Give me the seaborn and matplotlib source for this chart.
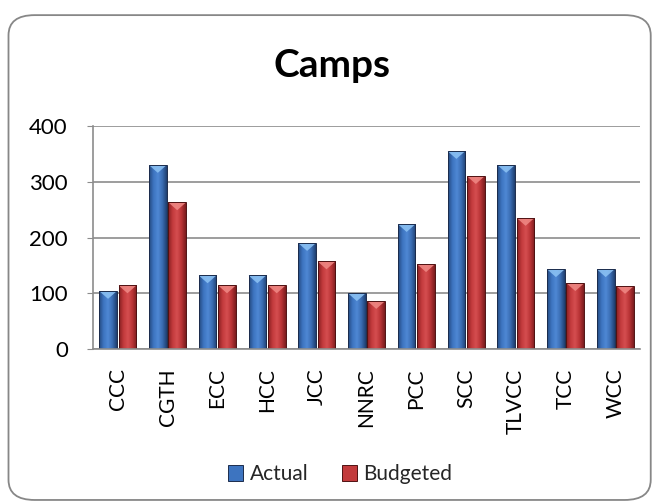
import matplotlib
matplotlib.use("Agg")
import matplotlib.pyplot as plt
from matplotlib.patches import FancyBboxPatch, Polygon
from matplotlib.colors import to_rgb
import numpy as np
import seaborn as sns
import pandas as pd

camps = ["CCC", "CGTH", "ECC", "HCC", "JCC", "NNRC", "PCC", "SCC", "TLVCC", "TCC", "WCC"]
actual = [104, 330, 132, 132, 190, 100, 224, 355, 330, 143, 143]
budgeted = [114, 263, 114, 114, 157, 86, 152, 310, 235, 118, 113]

df = pd.DataFrame({
    "camp": camps * 2,
    "value": actual + budgeted,
    "series": ["Actual"] * len(camps) + ["Budgeted"] * len(camps),
})

sns.set_style("white")
plt.rcParams["font.family"] = ["Lato", "DejaVu Sans"]

fig = plt.figure(figsize=(6.54, 5.04), dpi=100)
ax = fig.add_axes([0.142, 0.3075, 0.837, 0.4425])

palette = {"Actual": "#3a6db5", "Budgeted": "#c43a3c"}
sns.barplot(data=df, x="camp", y="value", hue="series", palette=palette,
            width=0.78, gap=0.09, edgecolor="#1c2c4c", linewidth=0.7,
            saturation=1, ax=ax, legend=True)

# excel-like shading: horizontal gradient + light chevron on top
shades = {
    "Actual": (["#24497f", "#3d74c0", "#4f88d4", "#3a6db3", "#1f3f70"], "#8ec4f5", "#1c2c4c"),
    "Budgeted": (["#852022", "#c23a3c", "#d54e50", "#b93436", "#7a1c1e"], "#f08a86", "#4f1213"),
}
bars = ax.patches[:2 * len(camps)]
for i, patch in enumerate(bars):
    key = "Actual" if i < len(camps) else "Budgeted"
    stops, tip, edge = shades[key]
    patch.set_edgecolor(edge)
    x0, y0 = patch.get_x(), patch.get_y()
    w, h = patch.get_width(), patch.get_height()
    x1 = x0 + w
    xs = np.linspace(0, 1, 64)
    pos = np.linspace(0, 1, len(stops))
    rgb = np.array([to_rgb(c) for c in stops])
    grad = np.stack([np.interp(xs, pos, rgb[:, k]) for k in range(3)], axis=-1)[None, :, :]
    im = ax.imshow(grad, extent=(x0, x1, y0, y0 + h), aspect="auto",
                   zorder=patch.get_zorder() + 0.1)
    im.set_clip_path(patch)
    tri = Polygon([(x0, y0 + h), (x1, y0 + h), (x0 + w / 2, y0 + h - 14)],
                  closed=True, facecolor=tip, edgecolor="none", alpha=0.85,
                  zorder=patch.get_zorder() + 0.2)
    ax.add_patch(tri)
    patch.set_facecolor("none")
    patch.set_zorder(patch.get_zorder() + 0.3)

ax.set_ylim(0, 400)
ax.set_yticks([0, 100, 200, 300, 400])
ax.set_xlim(-0.5, len(camps) - 0.5)
ax.yaxis.grid(True, color="#8c8c8c", linewidth=1.2)
ax.set_axisbelow(True)
for side in ["top", "right"]:
    ax.spines[side].set_visible(False)
for side in ["left", "bottom"]:
    ax.spines[side].set_color("#8c8c8c")
    ax.spines[side].set_linewidth(1.2)
ax.tick_params(axis="y", labelsize=16, length=4, color="#8c8c8c", left=True,
               labelcolor="black", pad=14)
ax.tick_params(axis="x", labelsize=15, rotation=90, length=0, labelcolor="black", pad=14)
ax.set_xlabel("")
ax.set_ylabel("")

fig.text(0.508, 0.847, "Camps", ha="center", va="baseline", fontsize=28,
         fontweight="bold", color="black")

handles, labels = ax.get_legend_handles_labels()
ax.legend_.remove()
for hnd, lab in zip(handles, labels):
    hnd.set_facecolor(shades[lab][0][1])
    hnd.set_edgecolor(shades[lab][2])
fig.legend(handles, labels, loc="center", bbox_to_anchor=(0.52, 0.059), ncol=2,
           frameon=False, fontsize=15, handlelength=0.75, handleheight=0.75,
           handletextpad=0.3, columnspacing=1.6)

border = FancyBboxPatch((0.013, 0.008), 0.982, 0.962, boxstyle="round,pad=0,rounding_size=0.04",
                        transform=fig.transFigure, facecolor="none", edgecolor="#878787",
                        linewidth=1.3)
fig.patches.append(border)

fig.savefig("out.png", dpi=100)
